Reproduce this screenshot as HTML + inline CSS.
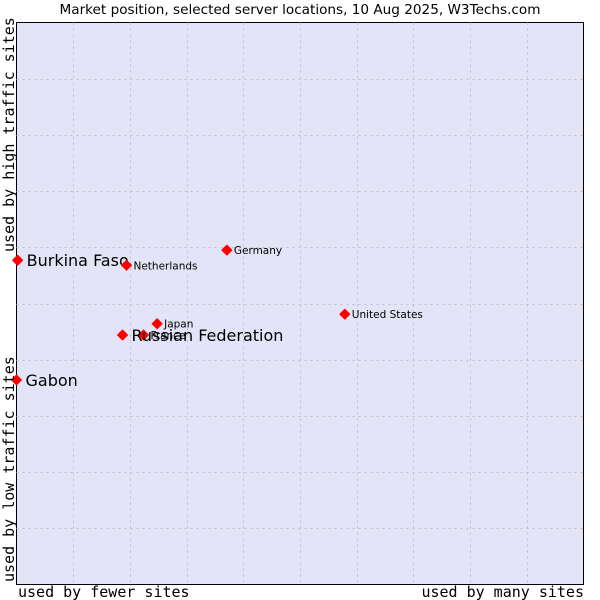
<!DOCTYPE html>
<html><head><meta charset="utf-8"><style>
body{margin:0;background:#fff;width:600px;height:600px;overflow:hidden}
svg{display:block}
</style></head><body>
<svg id="chart" width="600" height="600" xmlns="http://www.w3.org/2000/svg">
<rect x="0" y="0" width="600" height="600" fill="#fff"/>
<text x="300" y="14" text-anchor="middle" font-family="DejaVu Sans, sans-serif" font-size="13.6" fill="#000">Market position, selected server locations, 10 Aug 2025, W3Techs.com</text>
<rect x="16.5" y="22.5" width="567" height="562" fill="#e4e4f8" stroke="#000" stroke-width="1"/>
<g id="grid"></g>
<g id="points"></g>
<text transform="translate(14,252) rotate(-90)" font-family="DejaVu Sans Mono, monospace" font-size="15" fill="#000">used by high traffic sites</text>
<text transform="translate(14,582) rotate(-90)" font-family="DejaVu Sans Mono, monospace" font-size="15" fill="#000">used by low traffic sites</text>
<text x="18" y="597" font-family="DejaVu Sans Mono, monospace" font-size="15" fill="#000">used by fewer sites</text>
<text x="584" y="597" text-anchor="end" font-family="DejaVu Sans Mono, monospace" font-size="15" fill="#000">used by many sites</text>
</svg>
<script>
const names=["Burkina Faso","Netherlands","Germany","United States","Japan","France","Russian Federation","Gabon"];
const xValues=[0.2,19.4,37.1,57.9,24.8,22.4,18.7,0.0];
const yValues=[57.7,56.8,59.5,48.1,46.4,44.4,44.4,36.4];
const bigLabel=[true,false,false,false,false,false,true,true];
const L=16.5,R=583.5,T=22.5,B=584.5;
const sx=v=>L+v/100*(R-L);
const sy=v=>B-v/100*(B-T);
const NS="http://www.w3.org/2000/svg";
const grid=document.getElementById('grid');
for(let i=1;i<10;i++){
  const vx=document.createElementNS(NS,'line');
  
  
  const x=Math.round(sx(i*10))+0.5;
  vx.setAttribute('x1',x);vx.setAttribute('x2',x);vx.setAttribute('y1',T);vx.setAttribute('y2',B);
  vx.setAttribute('stroke','#c0c0c0');vx.setAttribute('stroke-dasharray','2,4');
  grid.appendChild(vx);
  const hz=document.createElementNS(NS,'line');
  
  
  const y=Math.round(sy(i*10))+0.5;
  hz.setAttribute('x1',L);hz.setAttribute('x2',R);hz.setAttribute('y1',y);hz.setAttribute('y2',y);
  hz.setAttribute('stroke','#c0c0c0');hz.setAttribute('stroke-dasharray','2,4');
  grid.appendChild(hz);
}
const pts=document.getElementById('points');
names.forEach((n,i)=>{
  const x=sx(xValues[i]),y=sy(yValues[i]);
  const d=document.createElementNS(NS,'path');
  
  
  d.setAttribute('d',`M${x} ${y-5}L${x+5} ${y}L${x} ${y+5}L${x-5} ${y}Z`);
  d.setAttribute('fill','#ff0000');
  d.setAttribute('stroke','#ff0000');
  d.setAttribute('stroke-width','1');
  d.setAttribute('stroke-linejoin','round');
  pts.appendChild(d);
  const t=document.createElementNS(NS,'text');
  
  
  t.setAttribute('font-family','DejaVu Sans, sans-serif');
  if(bigLabel[i]){t.setAttribute('font-size','16');t.setAttribute('x',x+9);t.setAttribute('y',y+6);}
  else{t.setAttribute('font-size','10.5');t.setAttribute('x',x+7);t.setAttribute('y',y+4);}
  t.setAttribute('fill','#000');
  t.textContent=n;
  pts.appendChild(t);
});
</script>
</body></html>
